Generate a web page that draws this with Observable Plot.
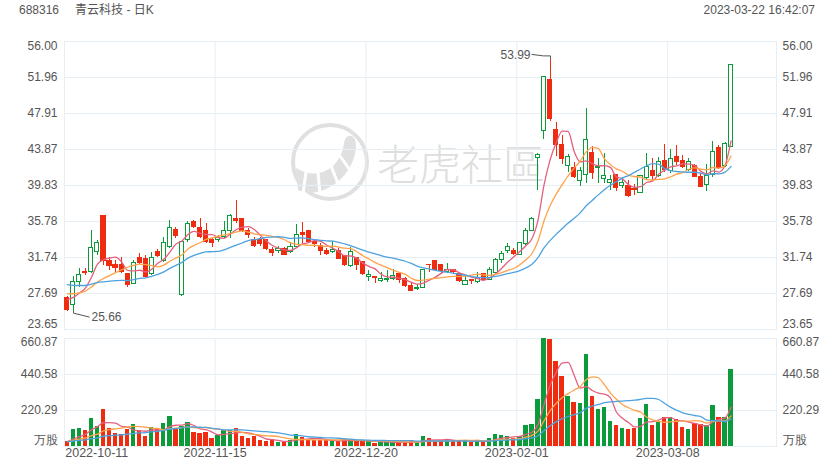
<!DOCTYPE html>
<html><head><meta charset="utf-8">
<script src="https://cdn.jsdelivr.net/npm/d3@7"></script>
<script src="https://cdn.jsdelivr.net/npm/@observablehq/plot@0.6"></script>
<style>
body{margin:0;background:#fff;}
#wrap{position:relative;width:840px;height:470px;overflow:hidden;font-family:"Liberation Sans",Arial,"Noto Sans CJK SC",sans-serif;color:#555;}
.abs{position:absolute;}
#title{left:19px;top:2px;font-size:12px;line-height:16px;white-space:nowrap;}
#stamp{right:25px;top:2px;font-size:12px;line-height:16px;white-space:nowrap;}
</style></head><body>
<div id="wrap">
  <svg class="abs" id="wm" width="840" height="470" style="left:0;top:0">
    <circle cx="330" cy="162" r="37" fill="none" stroke="#e0e0e0" stroke-width="4"/>
    <path d="M296,168 Q316,180 333,166 Q343,156 344,143 Q346,134 352,136 Q358,140 355,154 Q349,178 326,189 Q310,196 298,190 Z" fill="#e0e0e0"/>
    <g stroke="#fff" stroke-width="3">
      <line x1="306" y1="172" x2="303" y2="194"/>
      <line x1="318" y1="173" x2="320" y2="194"/>
      <line x1="331" y1="166" x2="339" y2="186"/>
      <line x1="340" y1="156" x2="350" y2="170"/>
    </g>
    <text x="377" y="180" font-size="42" font-weight="300" fill="#dedede" font-family="'Noto Sans CJK SC','Noto Sans CJK TC',sans-serif">老虎社區</text>
  </svg>
  <div class="abs" id="title"><span id="code"></span><span id="name" style="margin-left:16px"></span></div>
  <div class="abs" id="stamp"></div>
</div>
<script>
// ---- chart texts ----
const stockCode = "688316";
const stockName = "青云科技 - 日K";
const stampText = "2023-03-22 16:42:07";

// ---- daily candles (2022-10-11 .. 2023-03-22) ----
const opens  = [27.21,26.35,28.97,30.09,30.09,32.34,36.45,31.40,30.95,30.95,29.83,28.78,31.66,31.59,29.90,32.34,31.40,32.90,34.84,27.47,
                33.72,35.78,35.07,34.77,33.72,33.72,34.02,34.77,36.08,36.08,34.77,33.72,33.72,33.65,32.60,32.45,32.71,32.34,32.90,34.47,
                34.77,33.46,33.08,32.45,32.30,32.52,31.96,30.73,31.70,31.21,29.60,29.53,29.15,29.23,29.34,29.90,29.34,28.59,28.18,28.29,
                30.95,31.40,30.95,30.09,30.28,29.83,28.70,29.23,28.93,29.90,29.23,29.98,31.47,32.45,32.52,32.07,33.20,34.77,42.93,46.00,
                51.73,46.08,44.32,42.03,41.81,40.31,41.02,43.53,41.81,40.57,40.09,40.95,39.82,39.75,39.41,39.00,40.69,41.40,40.84,42.56,
                41.40,43.00,42.63,41.59,41.96,40.76,39.90,40.95,44.02,41.96,44.13];
const highs  = [27.36,29.60,30.46,30.46,34.77,33.65,36.45,31.78,31.40,31.78,29.90,31.40,32.22,31.96,32.34,32.60,34.02,35.89,35.14,33.46,
                35.82,35.89,36.08,35.52,33.83,34.21,35.82,36.57,38.14,36.08,34.96,34.02,34.02,33.72,32.82,32.97,32.82,33.46,35.44,35.70,
                34.77,33.46,33.27,32.71,33.57,32.71,31.96,32.82,31.77,31.21,30.28,29.60,30.09,30.28,30.35,30.09,29.53,28.78,28.70,30.35,
                30.95,31.40,30.95,31.10,30.43,29.90,29.71,29.23,30.09,29.90,30.65,31.59,32.45,33.27,32.71,33.46,34.96,36.27,43.38,51.96,
                53.99,46.94,45.44,43.30,42.45,41.89,48.44,44.21,42.82,43.38,40.95,40.95,40.76,40.39,39.94,40.95,43.38,42.82,42.93,44.43,
                43.83,44.32,43.20,42.82,42.19,41.14,42.19,44.77,44.32,44.70,53.41];
const lows   = [25.71,25.66,28.40,29.71,29.90,31.96,30.84,30.28,29.90,29.90,28.33,28.70,30.95,29.53,29.71,31.78,31.21,32.71,33.83,27.36,
                33.46,34.96,33.83,33.27,32.82,33.46,33.83,33.83,35.52,34.58,33.83,32.90,32.97,32.52,31.85,32.15,31.96,32.22,32.82,33.08,
                33.27,32.82,31.96,31.96,32.22,31.51,30.73,30.65,30.28,29.71,29.08,28.85,28.97,28.97,29.15,28.85,28.40,27.95,28.03,28.22,
                30.09,30.20,29.98,29.98,29.90,28.97,28.63,28.70,28.85,29.08,29.15,29.90,31.10,32.15,31.96,31.96,33.08,34.69,39.26,44.96,
                47.05,43.08,42.19,41.32,40.57,39.71,40.01,40.46,40.09,40.09,39.26,39.19,39.45,38.44,38.70,38.89,40.39,40.39,40.69,41.32,
                41.14,42.07,41.70,41.44,40.69,39.56,39.19,40.76,41.59,41.89,44.13];
const closes = [25.86,28.97,29.79,29.98,32.82,33.38,31.40,30.73,30.58,30.09,28.67,31.10,31.10,29.60,31.66,31.96,33.38,35.07,34.13,33.46,
                35.52,35.14,34.02,33.46,33.35,33.95,34.69,36.42,35.89,34.77,34.21,33.08,33.20,32.71,32.22,32.71,32.07,32.90,34.32,34.32,
                33.46,33.20,32.45,32.15,32.60,31.59,30.84,32.34,30.84,29.90,29.75,29.45,29.34,29.34,29.71,29.23,28.59,27.95,28.29,30.28,
                30.84,30.28,30.20,30.35,30.13,29.08,29.08,29.08,29.45,29.23,30.35,31.47,32.15,32.97,32.15,33.35,34.69,36.08,43.30,51.96,
                47.31,44.32,42.82,43.08,40.76,41.44,44.88,41.21,41.89,40.84,40.46,39.56,40.12,38.63,39.34,40.84,41.89,40.84,42.52,41.59,
                42.75,42.45,41.89,42.41,40.76,39.64,40.84,43.64,41.81,44.51,53.41];
// volume, 万股
const volumes = [28,106,108,96,171,124,228,110,79,75,104,134,90,63,114,104,141,185,106,120,
                 149,83,79,83,47,65,100,96,110,59,49,59,34,28,43,26,22,38,75,53,
                 43,38,34,38,34,28,43,38,38,34,28,18,34,26,26,22,28,34,26,59,
                 49,34,34,43,34,34,34,26,34,28,49,72,66,59,49,63,130,134,287,661,
                 657,522,426,306,271,265,565,306,228,240,155,126,112,102,108,171,255,128,147,179,
                 177,167,114,106,141,136,130,249,177,177,473];
// estimated earlier sessions, used only to seed the moving averages
const priorClose = [30.6,30.3,30.0,29.9,29.7,29.6,29.4,29.4,29.3,29.2,28.9,28.6,28.3,28.1,27.7,27.6,27.4,27.2,26.9];
const priorVol   = [32,30,35,28,31,29,33,27,30,34,29,31,26,30,33,28,32,29,31];

// ---- axes ----
const priceTicks = [23.65,27.69,31.74,35.78,39.83,43.87,47.91,51.96,56.00];
const volTicks = [220.29,440.58,660.87];
const volUnit = "万股";
const dateTickIndex = [0,25,50,75,100];
const dateTickLabels = ["2022-10-11","2022-11-15","2022-12-20","2023-02-01","2023-03-08"];
const maPeriods = [5,10,20];

// ---- styles ----
const RED = "#ef2b10", GREEN = "#0b9b3a", GRID = "#e7eef4", TXT = "#555";
const MA_COLORS = ["#e5607f","#ffa24a","#4ea2e0"];
const xDomain = [-0.46, 117.53];

const candles = closes.map((c,i)=>({i, open:opens[i], high:highs[i], low:lows[i], close:c, vol:volumes[i], up:c>=opens[i]}));

function movingAvg(prior, values, n){
  const all = prior.concat(values), off = prior.length;
  return values.map((_,i)=>{ let s=0; for(let k=off+i-n+1;k<=off+i;k++) s+=all[k]; return s/n; });
}
const maPrice = [], maVol = [];
maPeriods.forEach((p,j)=>{
  movingAvg(priorClose, closes, p).forEach((v,i)=>maPrice.push({i, v, k:p, c:MA_COLORS[j]}));
  movingAvg(priorVol, volumes, p).forEach((v,i)=>maVol.push({i, v, k:p, c:MA_COLORS[j]}));
});

const fontStyle = {background:"transparent", fontFamily:"'Liberation Sans',Arial,sans-serif", fontSize:"12px", overflow:"visible"};

const pMid = priceTicks.slice(1,-1), pTop=[priceTicks[priceTicks.length-1]], pBot=[priceTicks[0]];
function yLabels(vals, dy, fmt){
  return [
    Plot.text(vals,{y:d=>d, text:fmt, frameAnchor:"left", textAnchor:"end", dx:-7, dy, fill:TXT}),
    Plot.text(vals,{y:d=>d, text:fmt, frameAnchor:"right", textAnchor:"start", dx:6, dy, fill:TXT})
  ];
}
const f2 = d=>d.toFixed(2);

const pricePlot = Plot.plot({
  width:840, height:335, marginLeft:64, marginRight:64, marginTop:41, marginBottom:6,
  x:{domain:xDomain, axis:null},
  y:{domain:[priceTicks[0], priceTicks[priceTicks.length-1]], axis:null},
  color:{type:"identity"},
  style:fontStyle,
  marks:[
    Plot.ruleY(priceTicks,{stroke:GRID}),
    Plot.ruleX(dateTickIndex.slice(1),{x:d=>d-0.5, stroke:GRID}),
    Plot.frame({stroke:GRID}),
    Plot.ruleX(candles,{x:"i", y1:"low", y2:"high", stroke:d=>d.up?GREEN:RED, shapeRendering:"crispEdges"}),
    Plot.rect(candles,{x1:d=>d.i-0.34, x2:d=>d.i+0.34, y1:"open", y2:"close",
      fill:d=>d.up?"#fff":RED, stroke:d=>d.up?GREEN:RED, shapeRendering:"crispEdges"}),
    Plot.line(maPrice,{x:"i", y:"v", z:"k", stroke:"c", curve:"monotone-x", strokeWidth:1.3}),
    ...yLabels(pMid, 0, f2),
    ...yLabels(pTop, 5, f2),
    ...yLabels(pBot, -5, f2)
  ]
});

const volPlot = Plot.plot({
  width:840, height:140, marginLeft:64, marginRight:64, marginTop:8, marginBottom:24,
  x:{domain:xDomain, axis:null},
  y:{domain:[0, volTicks[volTicks.length-1]], axis:null},
  color:{type:"identity"},
  style:fontStyle,
  marks:[
    Plot.ruleY(volTicks,{stroke:GRID}),
    Plot.ruleX(dateTickIndex.slice(1),{x:d=>d-0.5, stroke:GRID}),
    Plot.frame({stroke:GRID}),
    Plot.rect(candles,{x1:d=>d.i-0.36, x2:d=>d.i+0.36, y1:0, y2:"vol", fill:d=>d.up?GREEN:RED, shapeRendering:"crispEdges"}),
    Plot.line(maVol,{x:"i", y:"v", z:"k", stroke:"c", curve:"monotone-x", strokeWidth:1.3}),
    ...yLabels(volTicks.slice(0,-1), 0, f2),
    ...yLabels(volTicks.slice(-1), 4, f2),
    ...yLabels([0], -6, ()=>volUnit),
    Plot.text(dateTickIndex.slice(0,1),{x:d=>d-0.5, text:(d,k)=>dateTickLabels[0], frameAnchor:"bottom", dy:10, dx:1, textAnchor:"start", fill:TXT, fontSize:12.5}),
    Plot.text(dateTickIndex.slice(1),{x:d=>d-0.5, text:(d,k)=>dateTickLabels[k+1], frameAnchor:"bottom", dy:10, textAnchor:"middle", fill:TXT, fontSize:12.5})
  ]
});

const wrap = document.getElementById("wrap");
pricePlot.setAttribute("class","abs"); pricePlot.style.left="0px"; pricePlot.style.top="0px";
volPlot.setAttribute("class","abs"); volPlot.style.left="0px"; volPlot.style.top="330px";
wrap.appendChild(pricePlot); wrap.appendChild(volPlot);
document.getElementById("code").textContent = stockCode;
document.getElementById("name").textContent = stockName;
document.getElementById("stamp").textContent = stampText;

// max / min annotations
const sx = pricePlot.scale("x"), sy = pricePlot.scale("y");
const maxI = d3.maxIndex(highs), minI = d3.minIndex(lows);
const svg = d3.select(pricePlot);
{
  const cx = Math.round(sx.apply(maxI))+0.5, cy = sy.apply(highs[maxI]);
  svg.append("path").attr("d",`M${cx-19},${cy-4.5}L${cx-7},${cy-3}L${cx},${cy-3}L${cx},${cy}`).attr("fill","none").attr("stroke","#555");
  svg.append("text").attr("x",cx-20).attr("y",cy-4.5).attr("dy","0.35em").attr("text-anchor","end").attr("fill",TXT).attr("font-size",12).text(highs[maxI].toFixed(2));
}
{
  const cx = Math.round(sx.apply(minI))+0.5, cy = sy.apply(lows[minI]);
  svg.append("path").attr("d",`M${cx},${cy}L${cx},${cy+2}L${cx+16},${cy+6}`).attr("fill","none").attr("stroke","#555");
  svg.append("text").attr("x",cx+18).attr("y",cy+6).attr("dy","0.35em").attr("text-anchor","start").attr("fill",TXT).attr("font-size",12).text(lows[minI].toFixed(2));
}
</script>
</body></html>
